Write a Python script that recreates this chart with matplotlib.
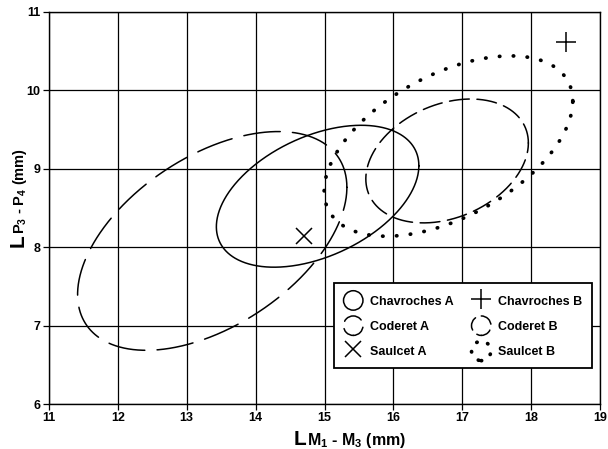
import numpy as np
import matplotlib
matplotlib.use("Agg")
import matplotlib.pyplot as plt
from matplotlib.legend_handler import HandlerBase
from matplotlib.patches import Ellipse

FONT = ['Liberation Sans', 'DejaVu Sans']
plt.rcParams['font.family'] = FONT
plt.rcParams['mathtext.fontset'] = 'custom'
plt.rcParams['mathtext.rm'] = 'Liberation Sans:bold'
plt.rcParams['mathtext.it'] = 'Liberation Sans:bold'
plt.rcParams['mathtext.bf'] = 'Liberation Sans:bold'

# ---- data ----
ell_names = ['Chavroches A', 'Coderet A', 'Coderet B', 'Saulcet B']
ell_cx = [14.90, 13.37, 16.78, 16.80]
ell_cy = [8.65, 8.08, 9.10, 9.29]
ell_sx = [1.47, 1.955, 1.18, 1.805]
ell_sy = [0.905, 1.395, 0.79, 1.15]
ell_rho = [0.43, 0.49, 0.29, 0.50]

pt_names = ['Saulcet A', 'Chavroches B']
pt_x = [14.70, 18.50]
pt_y = [8.14, 10.62]

x_ticks = [11, 12, 13, 14, 15, 16, 17, 18, 19]
y_ticks = [6, 7, 8, 9, 10, 11]

# ---- styles ----
ell_styles = {
    'Chavroches A': dict(ls='-', lw=1.1, leg=None),
    'Coderet A': dict(ls=(0, (24, 8)), lw=1.1, leg=(4, (13, 5))),
    'Coderet B': dict(ls=(0, (13, 5)), lw=1.1, leg=(2, (9, 4))),
    'Saulcet B': dict(ls=(0, (0.1, 3.6)), lw=2.7, leg=(0, (0.1, 3.0))),
}
pt_styles = {'Saulcet A': dict(marker='x', ms=11, mew=1.1),
             'Chavroches B': dict(marker='+', ms=15, mew=1.1)}

fig = plt.figure(figsize=(6.08, 4.49), dpi=100)
ax = fig.add_axes([49/608, 1-404/449, 551/608, 392/449])

handles = []
t = np.linspace(0, 2*np.pi, 721)
for n, cx, cy, sx, sy, r in zip(ell_names, ell_cx, ell_cy, ell_sx, ell_sy, ell_rho):
    x = cx + sx*np.cos(t)
    y = cy + sy*(r*np.cos(t) + np.sqrt(1-r*r)*np.sin(t))
    st = ell_styles[n]
    ln, = ax.plot(x, y, color='black', linestyle=st['ls'], lw=st['lw'],
                  dash_capstyle='round', label=n, zorder=3)
    handles.append(ln)

pt_handles = []
for n, x, y in zip(pt_names, pt_x, pt_y):
    st = pt_styles[n]
    h, = ax.plot([x], [y], linestyle='none', marker=st['marker'], color='black',
                 markersize=st['ms'], markeredgewidth=st['mew'], label=n, zorder=3)
    pt_handles.append(h)


class HandlerCircle(HandlerBase):
    def create_artists(self, legend, orig_handle, xdescent, ydescent,
                       width, height, fontsize, trans):
        d = 14.0
        cxh = width/2 - xdescent
        cyh = height/2 - ydescent
        st = ell_styles[orig_handle.get_label()]
        e = Ellipse((cxh, cyh), d, d, fill=False, edgecolor='black',
                    linewidth=st['lw'], transform=trans)
        if st['leg'] is not None:
            e.set_linestyle(st['leg'])
            e.set_capstyle('round')
        return [e]


ax.set_xlim(11, 19)
ax.set_ylim(6, 11)
ax.set_xticks(x_ticks)
ax.set_yticks(y_ticks)
ax.set_xticklabels([str(v) for v in x_ticks])
ax.set_yticklabels([str(v) for v in y_ticks])
ax.grid(True, color='black', lw=0.9)
ax.set_axisbelow(True)
for s in ax.spines.values():
    s.set_linewidth(1.0)
ax.tick_params(direction='out', length=4, width=0.9, labelsize=9, pad=2)
for lab in ax.get_xticklabels() + ax.get_yticklabels():
    lab.set_fontweight('bold')

order = [handles[0], handles[1], pt_handles[0], pt_handles[1], handles[2], handles[3]]
hm = {h: HandlerCircle() for h in handles}
leg = ax.legend(order, [h.get_label() for h in order], ncol=2,
                loc='lower left', bbox_to_anchor=(0.517, 0.092),
                borderaxespad=0, handler_map=hm,
                prop=dict(family=FONT, weight='bold', size=9),
                handlelength=1.6, handleheight=1.5, handletextpad=0.55,
                labelspacing=0.8, columnspacing=1.4, borderpad=0.75,
                fancybox=False, framealpha=1, edgecolor='black')
leg.get_frame().set_linewidth(1.3)
leg.set_zorder(5)

# ---- composite axis labels ----
fig.canvas.draw()
r = fig.canvas.get_renderer()


def hlabel(parts, x0, y0):
    x = x0
    for txt, size in parts:
        tt = fig.text(x/608, y0/449, txt, fontsize=size, fontweight='bold',
                      ha='left', va='baseline', family=FONT)
        bb = tt.get_window_extent(r)
        x = bb.x1


def vlabel(parts, x0, y0):
    y = y0
    for txt, size in parts:
        tt = fig.text(x0/608, y/449, txt, fontsize=size, fontweight='bold',
                      ha='left', va='baseline', rotation=90,
                      rotation_mode='anchor', family=FONT)
        bb = tt.get_window_extent(r)
        y = bb.y1


hlabel([('L', 15), (r'M$_1$ - M$_3$ (mm)', 11.5)], 294, 4)
vlabel([('L', 15), (r'P$_3$ - P$_4$ (mm)', 10.5)], 24, 449-247)

fig.savefig('out.png', dpi=100)
